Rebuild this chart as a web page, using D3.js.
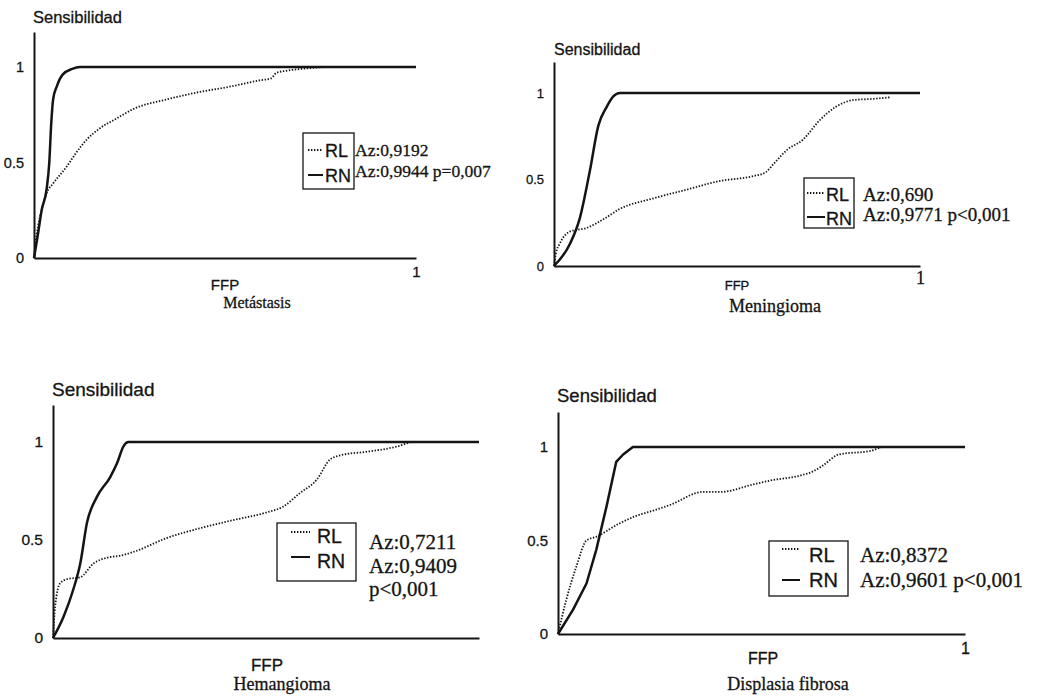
<!DOCTYPE html>
<html>
<head>
<meta charset="utf-8">
<script src="https://cdn.jsdelivr.net/npm/d3@7"></script>
<style>
  body { margin: 0; background: #fff; }
  svg { display: block; }
  .sans { font-family: "Liberation Sans", Arial, sans-serif; }
  .serif { font-family: "Liberation Serif", "Times New Roman", serif; }
  text { stroke: #141414; stroke-width: 0.3px; }
</style>
</head>
<body>
<svg id="chart" width="1055" height="698"></svg>
<script>
// ROC curves, [FFP, Sensibilidad] pairs
var titles = ["Metástasis", "Meningioma", "Hemangioma", "Displasia fibrosa"];
var seriesNames = ["RL", "RN"];
var yTickLabels = ["0", "0.5", "1"];
var xTickLabels = ["1"];

var metastasisRL = [[0,0],[0.003,0.06],[0.011,0.17],[0.02,0.25],[0.033,0.34],[0.05,0.39],[0.086,0.48],[0.11,0.55],[0.138,0.62],[0.173,0.68],[0.216,0.73],[0.26,0.78],[0.347,0.83],[0.435,0.87],[0.52,0.9],[0.59,0.93],[0.62,0.94],[0.635,0.97],[0.66,0.98],[0.7,0.99],[0.78,1],[1,1]];
var metastasisRN = [[0,0],[0.01,0.12],[0.02,0.25],[0.033,0.36],[0.04,0.5],[0.045,0.7],[0.05,0.83],[0.06,0.9],[0.075,0.96],[0.1,0.99],[0.12,1],[1,1]];

var meningiomaRL = [[0,0],[0.005,0.07],[0.016,0.13],[0.044,0.2],[0.089,0.22],[0.135,0.27],[0.18,0.33],[0.27,0.39],[0.36,0.44],[0.45,0.49],[0.545,0.52],[0.577,0.54],[0.6,0.59],[0.636,0.67],[0.68,0.73],[0.727,0.845],[0.77,0.92],[0.82,0.96],[0.863,0.965],[0.918,0.975]];
var meningiomaRN = [[0,0],[0.044,0.13],[0.071,0.28],[0.098,0.55],[0.121,0.81],[0.144,0.92],[0.162,0.98],[0.18,1],[1,1]];

var hemangiomaRL = [[0,0],[0.005,0.16],[0.017,0.28],[0.033,0.3],[0.064,0.31],[0.095,0.38],[0.127,0.41],[0.158,0.42],[0.19,0.44],[0.267,0.51],[0.345,0.56],[0.42,0.6],[0.5,0.64],[0.54,0.67],[0.58,0.74],[0.62,0.81],[0.65,0.91],[0.68,0.935],[0.736,0.95],[0.81,0.978],[0.845,1],[1,1]];
var hemangiomaRN = [[0,0],[0.025,0.11],[0.048,0.25],[0.064,0.38],[0.08,0.59],[0.103,0.72],[0.134,0.82],[0.15,0.89],[0.166,0.98],[0.177,1],[1,1]];

var displasiaRL = [[0,0],[0.02,0.18],[0.045,0.36],[0.07,0.5],[0.094,0.52],[0.15,0.59],[0.19,0.63],[0.234,0.66],[0.275,0.69],[0.357,0.76],[0.4,0.76],[0.48,0.8],[0.52,0.82],[0.6,0.85],[0.627,0.87],[0.65,0.9],[0.69,0.96],[0.77,0.98],[0.8,1],[1,1]];
var displasiaRN = [[0,0],[0.037,0.13],[0.07,0.27],[0.094,0.45],[0.119,0.68],[0.143,0.92],[0.16,0.96],[0.184,1],[1,1]];

var azTexts = [
  ["Az:0,9192", "Az:0,9944 p=0,007"],
  ["Az:0,690", "Az:0,9771 p<0,001"],
  ["Az:0,7211", "Az:0,9409", "p<0,001"],
  ["Az:0,8372", "Az:0,9601 p<0,001"]
];

// layout of each panel on the page (pixels), kept apart from the values
var panels = [
  { rl: metastasisRL, rn: metastasisRN, rnLinear: false,
    ox: 34, oy: 258, x1: 416, yOne: 67, top: 32,
    ylab: { x: 33, y: 23, fs: 16.5 }, tickFs: 14.5,
    xTick: true, xTickPad: 8, xTickFs: 15, xTickFont: "sans",
    ffp: { x: 225, y: 290, fs: 15 }, title: { x: 257, y: 308, fs: 16 },
    box: [303, 133, 354, 189], samp: [308, 323, 150, 175], legX: 325, legY: [157, 182], legFs: 18,
    az: { x: 355, y: [156, 177], fs: 17.5 } },
  { rl: meningiomaRL, rn: meningiomaRN, rnLinear: false,
    ox: 554, oy: 266, x1: 920, yOne: 93, top: 62,
    ylab: { x: 554, y: 55, fs: 16 }, tickFs: 13,
    xTick: true, xTickPad: 5, xTickFs: 18, xTickFont: "serif",
    ffp: { x: 737, y: 290, fs: 13 }, title: { x: 775, y: 312, fs: 18 },
    box: [804, 178, 854, 228], samp: [807, 825, 193, 217], legX: 826, legY: [201, 225], legFs: 18,
    az: { x: 863, y: [201, 221], fs: 19 } },
  { rl: hemangiomaRL, rn: hemangiomaRN, rnLinear: false,
    ox: 53, oy: 638, x1: 479, yOne: 442, top: 405,
    ylab: { x: 52, y: 396, fs: 19 }, tickFs: 15.5,
    xTick: false,
    ffp: { x: 267, y: 671, fs: 17 }, title: { x: 282, y: 690, fs: 18 },
    box: [277, 523, 356, 581], samp: [291, 310, 532, 557], legX: 317, legY: [543, 568], legFs: 19.5,
    az: { x: 369, y: [549, 573, 596], fs: 21 } },
  { rl: displasiaRL, rn: displasiaRN, rnLinear: true,
    ox: 558, oy: 634, x1: 965, yOne: 447, top: 412,
    ylab: { x: 557, y: 402, fs: 18.5 }, tickFs: 15,
    xTick: true, xTickPad: 9, xTickFs: 16, xTickFont: "sans",
    ffp: { x: 763, y: 664, fs: 16 }, title: { x: 788, y: 690, fs: 18 },
    box: [769, 541, 848, 596], samp: [782, 800, 549, 580], legX: 809, legY: [562, 587], legFs: 20,
    az: { x: 860, y: [562, 587], fs: 21 } }
];

var ink = "#141414";
var svg = d3.select("#chart");

panels.forEach(function(p, i) {
  var g = svg.append("g");

  // y scale reaches a bit above 1 so the axis runs up to the label
  var yTop = (p.oy - p.top) / (p.oy - p.yOne);
  var x = d3.scaleLinear().domain([0, 1]).range([p.ox, p.x1]);
  var y = d3.scaleLinear().domain([0, yTop]).range([p.oy, p.top]);

  var yAxis = d3.axisLeft(y)
    .tickValues([0, 0.5, 1])
    .tickFormat(function(d, j) { return yTickLabels[j]; })
    .tickSize(0).tickPadding(10);
  var xAxis = d3.axisBottom(x)
    .tickValues(p.xTick ? [1] : [])
    .tickFormat(function(d, j) { return xTickLabels[j]; })
    .tickSize(0).tickPadding(p.xTickPad || 0);

  var ya = g.append("g").attr("transform", "translate(" + p.ox + ",0)").call(yAxis);
  var xa = g.append("g").attr("transform", "translate(0," + p.oy + ")").call(xAxis);
  ya.selectAll("text").attr("class", "sans").style("font-size", p.tickFs + "px");
  xa.selectAll("text").attr("class", p.xTickFont).style("font-size", p.xTickFs + "px");
  [ya, xa].forEach(function(a) {
    a.select(".domain").attr("stroke", ink).attr("stroke-width", 2);
    a.selectAll("text").attr("fill", ink);
  });

  var smooth = d3.line()
    .x(function(d) { return x(d[0]); })
    .y(function(d) { return y(d[1]); })
    .curve(d3.curveMonotoneX);
  var straight = d3.line()
    .x(function(d) { return x(d[0]); })
    .y(function(d) { return y(d[1]); });

  g.append("path").datum(p.rl)
    .attr("d", smooth)
    .attr("fill", "none").attr("stroke", ink)
    .attr("stroke-width", 1.8).attr("stroke-dasharray", "1.4,1.6");
  g.append("path").datum(p.rn)
    .attr("d", p.rnLinear ? straight : smooth)
    .attr("fill", "none").attr("stroke", ink)
    .attr("stroke-width", 2.5).attr("stroke-linejoin", "round");

  // axis names and panel title
  g.append("text").attr("class", "sans").attr("x", p.ylab.x).attr("y", p.ylab.y)
    .attr("fill", ink).style("font-size", p.ylab.fs + "px").text("Sensibilidad");
  g.append("text").attr("class", "sans").attr("x", p.ffp.x).attr("y", p.ffp.y)
    .attr("text-anchor", "middle").attr("fill", ink)
    .style("font-size", p.ffp.fs + "px").text("FFP");
  g.append("text").attr("class", "serif").attr("x", p.title.x).attr("y", p.title.y)
    .attr("text-anchor", "middle").attr("fill", ink)
    .style("font-size", p.title.fs + "px").text(titles[i]);

  // legend box
  g.append("rect")
    .attr("x", p.box[0]).attr("y", p.box[1])
    .attr("width", p.box[2] - p.box[0]).attr("height", p.box[3] - p.box[1])
    .attr("fill", "#fff").attr("stroke", ink).attr("stroke-width", 1.3);
  g.append("line")
    .attr("x1", p.samp[0]).attr("x2", p.samp[1]).attr("y1", p.samp[2]).attr("y2", p.samp[2])
    .attr("stroke", ink).attr("stroke-width", 1.8).attr("stroke-dasharray", "1.4,1.6");
  g.append("line")
    .attr("x1", p.samp[0]).attr("x2", p.samp[1]).attr("y1", p.samp[3]).attr("y2", p.samp[3])
    .attr("stroke", ink).attr("stroke-width", 2);
  seriesNames.forEach(function(name, k) {
    g.append("text").attr("class", "sans")
      .attr("x", p.legX).attr("y", p.legY[k]).attr("fill", ink)
      .style("font-size", p.legFs + "px").text(name);
  });

  // area values next to the legend
  azTexts[i].forEach(function(t, k) {
    g.append("text").attr("class", "serif")
      .attr("x", p.az.x).attr("y", p.az.y[k]).attr("fill", ink)
      .style("font-size", p.az.fs + "px").text(t);
  });
});
</script>
</body>
</html>
